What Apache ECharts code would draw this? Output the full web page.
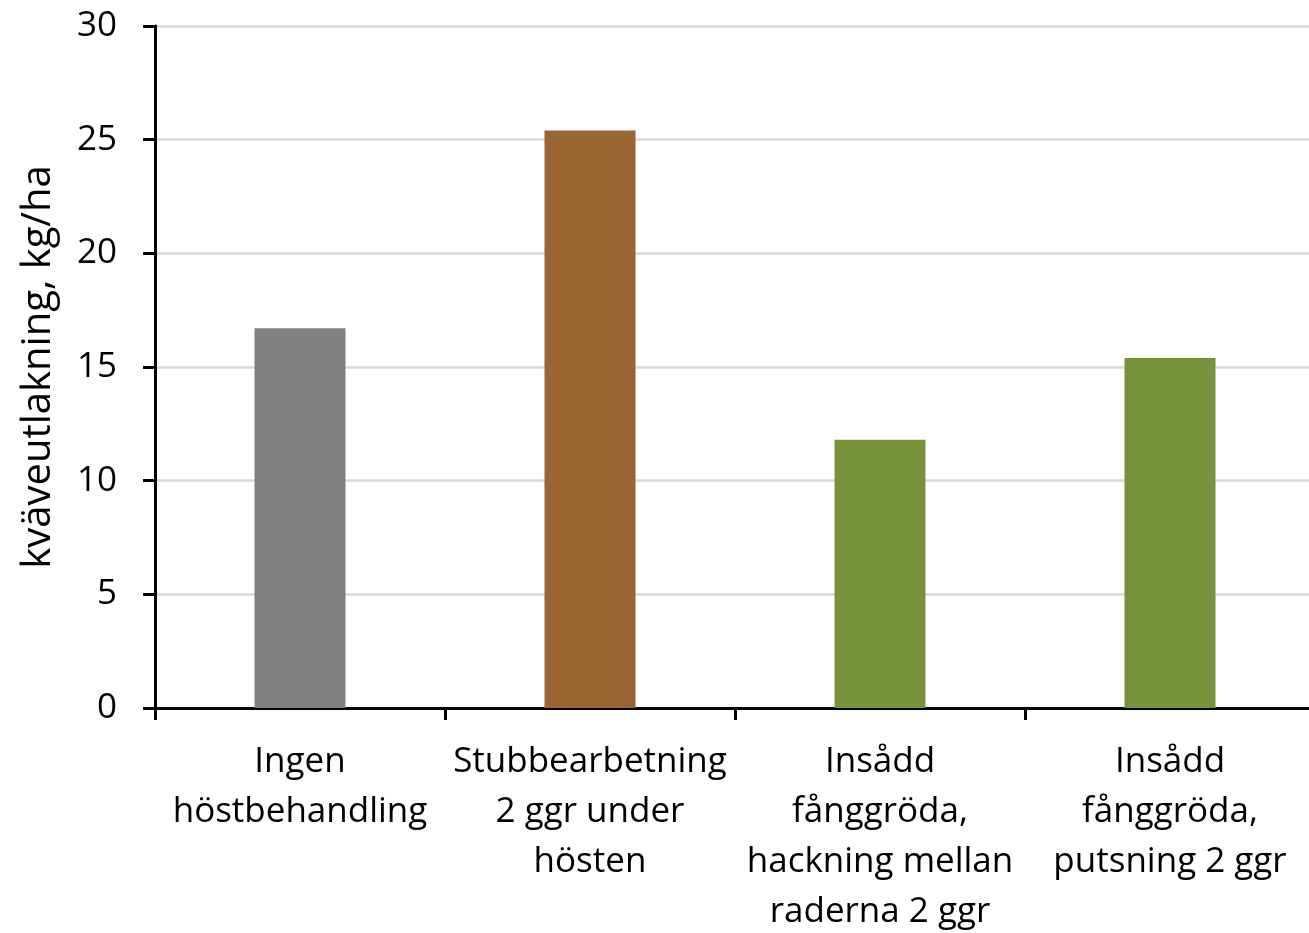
<!DOCTYPE html>
<html>
<head>
<meta charset="utf-8">
<script src="https://cdn.jsdelivr.net/npm/echarts@6/dist/echarts.min.js"></script>
<style>
html,body{margin:0;padding:0;background:#fff;}
#chart{width:1309px;height:933px;}
</style>
</head>
<body>
<div id="chart"></div>
<script>
const categories = [
  "Ingen\nhöstbehandling",
  "Stubbearbetning\n2 ggr under\nhösten",
  "Insådd\nfånggröda,\nhackning mellan\nraderna 2 ggr",
  "Insådd\nfånggröda,\nputsning 2 ggr"
];
const values = [16.7, 25.4, 11.8, 15.4];
const yTicks = { min: 0, max: 30, interval: 5 };
const yAxisName = "kväveutlakning, kg/ha";
const barColors = ["#808080", "#996633", "#77933C", "#77933C"];

const FONT = "Open Sans";
const chart = echarts.init(document.getElementById('chart'), null, { renderer: 'canvas' });
chart.setOption({
  animation: false,
  backgroundColor: '#ffffff',
  grid: { left: 155, top: 26, bottom: 225, right: -6, containLabel: false, outerBoundsMode: 'none' },
  xAxis: {
    type: 'category',
    data: categories,
    axisLine: { show: true, lineStyle: { color: '#000', width: 3 } },
    axisTick: { show: true, alignWithLabel: false, length: 12, lineStyle: { color: '#000', width: 3 } },
    axisLabel: { interval: 0, margin: 29, fontFamily: FONT, fontSize: 35, lineHeight: 50, color: '#000', align: 'center' },
    splitLine: { show: false }
  },
  yAxis: {
    type: 'value',
    min: yTicks.min, max: yTicks.max, interval: yTicks.interval,
    name: yAxisName,
    nameLocation: 'middle',
    nameGap: 96,
    nameTextStyle: { fontFamily: FONT, fontSize: 40, color: '#000' },
    axisLine: { show: true, lineStyle: { color: '#000', width: 3 } },
    axisTick: { show: true, length: 12, lineStyle: { color: '#000', width: 3 } },
    axisLabel: { margin: 38, fontFamily: FONT, fontSize: 35, color: '#000' },
    splitLine: { show: true, lineStyle: { color: '#d9d9d9', width: 2.5 } }
  },
  series: [{
    type: 'bar',
    data: values,
    barWidth: 91,
    itemStyle: { color: p => barColors[p.dataIndex] }
  }]
});
</script>
</body>
</html>
